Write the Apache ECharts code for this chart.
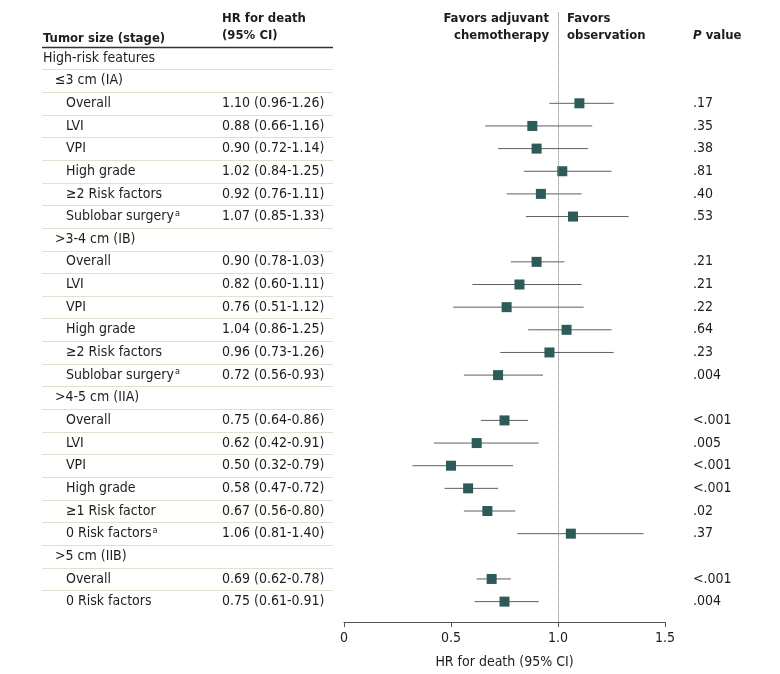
<!DOCTYPE html>
<html lang="en">
<head>
    <meta charset="UTF-8">
    <title>Forest plot</title>
    <script src="https://cdn.jsdelivr.net/npm/echarts@6/dist/echarts.min.js"></script>
    <style>
        html, body { margin: 0; padding: 0; background: #fff; }
        #chart { width: 780px; height: 674px; }
    </style>
</head>
<body>
<div id="chart"></div>
<script>
    // rows of the table, top to bottom
    var labels = ['High-risk features', '≤3 cm (IA)', 'Overall', 'LVI', 'VPI', 'High grade', '≥2 Risk factors', 'Sublobar surgery{sup|a}',
        '>3-4 cm (IB)', 'Overall', 'LVI', 'VPI', 'High grade', '≥2 Risk factors', 'Sublobar surgery{sup|a}',
        '>4-5 cm (IIA)', 'Overall', 'LVI', 'VPI', 'High grade', '≥1 Risk factor', '0 Risk factors{sup|a}',
        '>5 cm (IIB)', 'Overall', '0 Risk factors']
    var levels = [0, 1, 2, 2, 2, 2, 2, 2, 1, 2, 2, 2, 2, 2, 2, 1, 2, 2, 2, 2, 2, 2, 1, 2, 2]
    var hr = [null, null, 1.10, 0.88, 0.90, 1.02, 0.92, 1.07, null, 0.90, 0.82, 0.76, 1.04, 0.96, 0.72,
        null, 0.75, 0.62, 0.50, 0.58, 0.67, 1.06, null, 0.69, 0.75]
    var lo = [null, null, 0.96, 0.66, 0.72, 0.84, 0.76, 0.85, null, 0.78, 0.60, 0.51, 0.86, 0.73, 0.56,
        null, 0.64, 0.42, 0.32, 0.47, 0.56, 0.81, null, 0.62, 0.61]
    var hi = [null, null, 1.26, 1.16, 1.14, 1.25, 1.11, 1.33, null, 1.03, 1.11, 1.12, 1.25, 1.26, 0.93,
        null, 0.86, 0.91, 0.79, 0.72, 0.80, 1.40, null, 0.78, 0.91]
    var pvals = ['', '', '.17', '.35', '.38', '.81', '.40', '.53', '', '.21', '.21', '.22', '.64', '.23', '.004',
        '', '<.001', '.005', '<.001', '<.001', '.02', '.37', '', '<.001', '.004']
    var xTicks = [0, 0.5, 1.0, 1.5]

    var font = '"DejaVu Sans Condensed", "Liberation Sans Narrow", sans-serif'
    var ink = '#1f1c1d'

    var points = []
    for (var i = 0; i < labels.length; i++) {
        if (hr[i] != null) points.push([i, hr[i], lo[i], hi[i]])
    }

    var chart = echarts.init(document.getElementById('chart'))
    chart.setOption({
        animation: false,
        grid: { left: 344, right: 115, top: 12.7, bottom: 52 },
        xAxis: {
            type: 'value', min: xTicks[0], max: xTicks[xTicks.length - 1], interval: 0.5,
            splitLine: { show: false },
            axisLine: { show: true, onZero: false, lineStyle: { color: '#555', width: 1 } },
            axisTick: { show: true, length: 5, lineStyle: { color: '#555' } },
            axisLabel: {
                color: ink, fontFamily: font, fontSize: 14, margin: 9,
                formatter: function (v) { return v === 0 ? '0' : v.toFixed(1) }
            },
            name: 'HR for death (95% CI)', nameLocation: 'middle', nameGap: 33,
            nameTextStyle: { color: ink, fontFamily: font, fontSize: 14 }
        },
        yAxis: { type: 'value', inverse: true, min: -2, max: 24.9, show: false },
        series: [{
            type: 'custom',
            data: points,
            encode: { x: 1, y: 0 },
            renderItem: function (params, api) {
                var row = api.value(0)
                var c = api.coord([api.value(1), row])
                var a = api.coord([api.value(2), row])
                var b = api.coord([api.value(3), row])
                var s = 10
                return {
                    type: 'group',
                    children: [
                        { type: 'line', shape: { x1: a[0], y1: a[1], x2: b[0], y2: b[1] },
                          style: { stroke: '#5f5f5f', lineWidth: 1 } },
                        { type: 'rect', shape: { x: c[0] - s / 2, y: c[1] - s / 2, width: s, height: s },
                          style: { fill: '#2c5b58' } }
                    ]
                }
            },
            markLine: {
                silent: true, symbol: 'none',
                label: { show: false },
                lineStyle: { type: 'dotted', color: '#777', width: 1 },
                data: [{ xAxis: 1 }]
            }
        }]
    })

    // table text and rules
    var rowY = function (i) { return chart.convertToPixel({ gridIndex: 0 }, [0, i])[1] }
    var indent = [43, 55, 66]
    var g = []
    var base = { fontFamily: font, fontSize: 14, fill: ink, verticalAlign: 'middle' }
    var rich = { sup: { fontSize: 9, verticalAlign: 'top', padding: [0, 0, 6, 1], fontFamily: font, fill: ink } }

    for (var j = 0; j < labels.length; j++) {
        var y = rowY(j)
        g.push({ type: 'text', x: indent[levels[j]], y: y,
            style: Object.assign({ text: labels[j], rich: rich }, base) })
        if (hr[j] != null) {
            g.push({ type: 'text', x: 222, y: y,
                style: Object.assign({ text: hr[j].toFixed(2) + ' (' + lo[j].toFixed(2) + '-' + hi[j].toFixed(2) + ')' }, base) })
        }
        if (pvals[j]) {
            g.push({ type: 'text', x: 693, y: y, style: Object.assign({ text: pvals[j] }, base) })
        }
        // separators
        var ly = Math.round(rowY(j - 0.5)) + 0.5
        g.push({ type: 'line', shape: { x1: 42, y1: ly, x2: 333, y2: ly },
            style: j === 0 ? { stroke: '#333', lineWidth: 1.5 } : { stroke: '#e3dfd0', lineWidth: 1 } })
    }

    var bold = { fontFamily: font, fontSize: 13, fontWeight: 'bold', fill: ink, verticalAlign: 'middle' }
    g.push({ type: 'text', x: 43, y: 39, style: Object.assign({ text: 'Tumor size (stage)' }, bold) })
    g.push({ type: 'text', x: 222, y: 19, style: Object.assign({ text: 'HR for death' }, bold) })
    g.push({ type: 'text', x: 222, y: 36, style: Object.assign({ text: '(95% CI)' }, bold) })
    g.push({ type: 'text', x: 549, y: 19, style: Object.assign({ text: 'Favors adjuvant', align: 'right' }, bold) })
    g.push({ type: 'text', x: 549, y: 36, style: Object.assign({ text: 'chemotherapy', align: 'right' }, bold) })
    g.push({ type: 'text', x: 567, y: 19, style: Object.assign({ text: 'Favors' }, bold) })
    g.push({ type: 'text', x: 567, y: 36, style: Object.assign({ text: 'observation' }, bold) })
    g.push({ type: 'text', x: 693, y: 36, style: Object.assign({
        text: '{i|P} value',
        rich: { i: { fontStyle: 'italic', fontWeight: 'bold', fontFamily: font, fontSize: 13, fill: ink } }
    }, bold) })

    chart.setOption({ graphic: { elements: g } })
</script>
</body>
</html>
